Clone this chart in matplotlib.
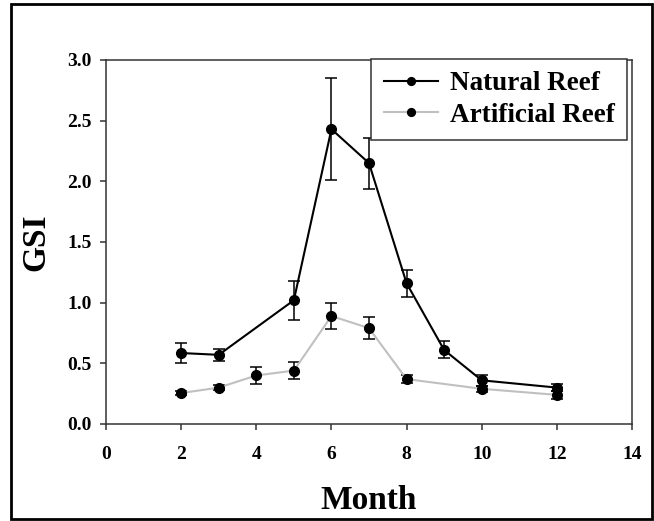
import matplotlib
matplotlib.use("Agg")
import matplotlib.pyplot as plt
from matplotlib.patches import Rectangle

plt.rcParams["font.family"] = ["Liberation Serif", "DejaVu Serif"]
plt.rcParams["font.weight"] = "bold"

# natural reef
nat_month = [2, 3, 5, 6, 7, 8, 9, 10, 12]
nat_gsi = [0.585, 0.57, 1.02, 2.43, 2.15, 1.16, 0.61, 0.36, 0.30]
nat_err = [0.08, 0.05, 0.16, 0.42, 0.21, 0.11, 0.07, 0.045, 0.03]

# artificial reef
art_month = [2, 3, 4, 5, 6, 7, 8, 10, 12]
art_gsi = [0.255, 0.30, 0.40, 0.44, 0.89, 0.79, 0.37, 0.29, 0.24]
art_err = [0.02, 0.02, 0.07, 0.07, 0.11, 0.09, 0.035, 0.025, 0.03]

xticks = [0, 2, 4, 6, 8, 10, 12, 14]
yticks = [0.0, 0.5, 1.0, 1.5, 2.0, 2.5, 3.0]

fig = plt.figure(figsize=(6.54, 5.21), dpi=100)
ax = fig.add_axes([106 / 654, 1 - 424 / 521, 526 / 654, 364 / 521])

# outer frame around the whole figure
fig.patches.append(Rectangle((11 / 654, 1 - 519 / 521), 641 / 654, 515 / 521,
                             transform=fig.transFigure, fill=False,
                             edgecolor="black", linewidth=2))

nat = ax.errorbar(nat_month, nat_gsi, yerr=nat_err, fmt="-o", color="black",
                  ecolor="black", mfc="black", mec="black", markersize=7,
                  linewidth=1.5, elinewidth=1.1, capsize=4.5, capthick=1.1,
                  zorder=3)
art = ax.errorbar(art_month, art_gsi, yerr=art_err, fmt="-o", color="#c0c0c0",
                  ecolor="black", mfc="black", mec="black", markersize=7,
                  linewidth=1.5, elinewidth=1.1, capsize=4.5, capthick=1.1,
                  zorder=2)

ax.set_xlim(0, 14)
ax.set_ylim(0, 3.0)
ax.set_xticks(xticks)
ax.set_yticks(yticks)
ax.set_yticklabels([f"{v:.1f}" for v in yticks])
ax.tick_params(direction="out", length=4.5, width=1.1, labelsize=14,
               color="#333333", pad=6)
ax.tick_params(axis="x", pad=11)
for s in ax.spines.values():
    s.set_linewidth(1.1)
    s.set_color("#333333")

ax.set_xlabel("Month", fontsize=24, fontweight="bold", labelpad=16)
ax.set_ylabel("GSI", fontsize=24, fontweight="bold", labelpad=11)

leg = ax.legend([nat.lines[0], art.lines[0]], ["Natural Reef", "Artificial Reef"],
                loc="upper right", bbox_to_anchor=(0.9905, 1.003),
                borderaxespad=0, fontsize=19.5, fancybox=False, markerscale=0.8,
                handlelength=2.0, handletextpad=0.45, borderpad=0.45,
                labelspacing=0.25, framealpha=1)
leg.get_frame().set_edgecolor("#333333")
leg.get_frame().set_linewidth(1.1)
for t in leg.get_texts():
    t.set_fontweight("bold")

fig.savefig("out.png", dpi=100)
